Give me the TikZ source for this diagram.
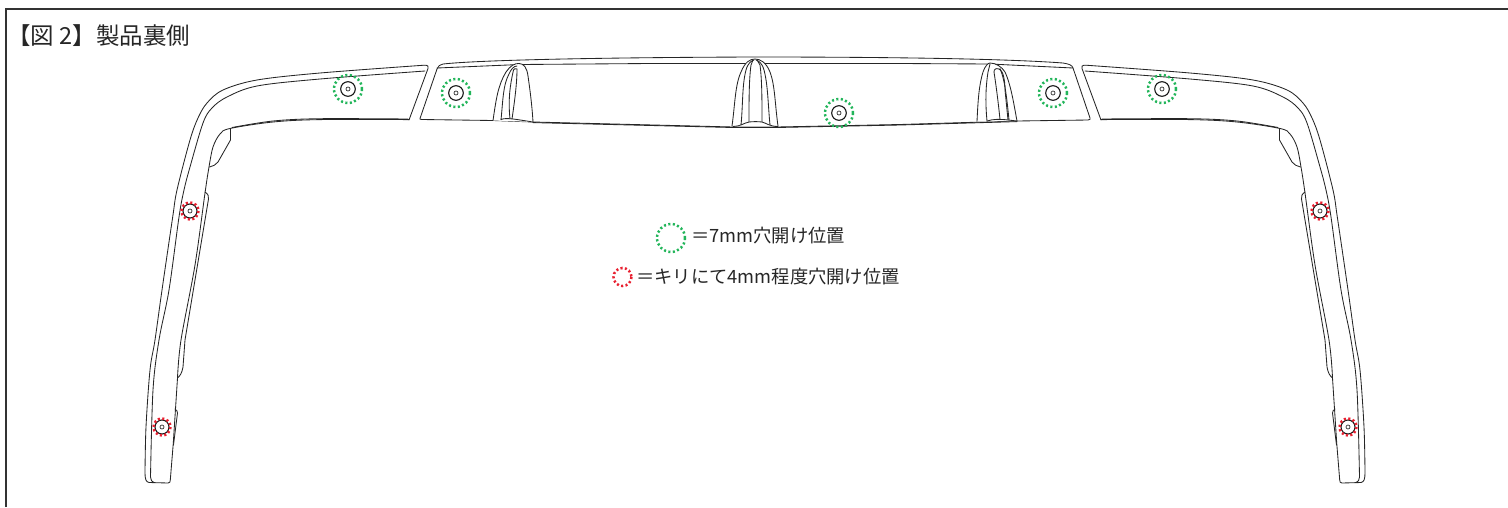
\documentclass[tikz,border=0pt]{standalone}
\usepackage{fontspec}
\setmainfont{Noto Sans CJK JP}
\tikzset{
  x=1pt,y=-1pt,
  part/.style={draw=black!85,line width=0.85pt,line join=round,line cap=round},
  frameline/.style={draw=black!80,line width=1.1pt},
  greenring/.style={draw=ringgreen,line width=2.5pt,dash pattern=on 2.1pt off 2.4pt},
  redring/.style={draw=ringred,line width=2.5pt,dash pattern=on 2.1pt off 2.35pt},
  boltline/.style={draw=black!90,line width=1.1pt},
  holeline/.style={draw=black!80,line width=0.7pt},
  label/.style={inner sep=0pt,anchor=west,text=black!85,font=\fontsize{18.3}{20}\selectfont},
  smoothy/.style={smooth,tension=0.55}
}
\definecolor{ringgreen}{RGB}{34,181,90}
\definecolor{ringred}{RGB}{232,32,48}
\newcommand{\greenbolt}[2]{%
  \draw[boltline] (#1,#2) circle[radius=7.3];
  \draw[holeline] (#1,#2) circle[radius=2];
  \draw[greenring] (#1,#2) circle[radius=14];}
\newcommand{\redbolt}[2]{%
  \draw[boltline] (#1,#2) circle[radius=7];
  \draw[holeline] (#1,#2) circle[radius=2];
  \draw[redring] (#1,#2) circle[radius=8.5];}
\newcommand{\wingshape}{%
  % outer edge with end tip
  \draw[part] plot[smoothy] coordinates {(424,65.2) (320,73) (257,80) (223,90) (207,103) (198,118) (190,140) (177,190) (172.7,217) (162,290) (155,340) (150,370) (146,427) (145,473)}
     .. controls (145,479) and (146,482) .. (149,482.5) -- (168,483)
     .. controls (170,483) and (170,482) .. (170.3,480) -- (173.3,443) -- (177.5,378);
  \draw[part] (424,65.2) .. controls (428,65) and (429,66.5) .. (428,68.5) -- (409,120);
  % second edge
  \draw[part] plot[smoothy] coordinates {(425,71) (320,79) (257,86) (227,97) (212,108) (203,123) (190,167) (184,190) (179,217) (169,290) (159,340) (153,390) (150.5,477)}
     .. controls (150.5,480) and (152,482) .. (154,482.5);
  % inner edge
  \draw[part] plot[smoothy] coordinates {(409,119.6) (320,119.6) (273,122) (230,128.5) (220,134) (213,147) (209,167) (205,193) (195,265) (181,340) (177.5,378)};
  \draw[part] plot[smoothy] coordinates {(408,119) (320,118.7) (273,121) (232,127.5)};
  % corner gusset
  \draw[part] (230.5,129) -- (230.5,140) -- (218,162) .. controls (216,165) and (213,166) .. (209.5,167);
  % long flap
  \draw[part] (205,192) .. controls (208,194) and (209,196) .. (208.5,199) -- (185,340) -- (183,367) .. controls (182,373) and (180,376) .. (177.5,378);
  % short flap
  \draw[part] (175,409) .. controls (176.5,410) and (177.5,411) .. (177.5,413) -- (173.5,445);
}
\begin{document}
\begin{tikzpicture}
\useasboundingbox (0,0) rectangle (1508,507);
% frame
\draw[frameline] (6,507) -- (6,9) -- (1508,9);
% title
\node[label,font=\fontsize{23.5}{25}\selectfont] (title) at (7,36) {【図 2】製品裏側};
% left and right wings
\wingshape
\begin{scope}[xshift=1510pt,xscale=-1]
\wingshape
\end{scope}
% centre panel
\draw[part] (420,118.5) -- (437,69) .. controls (438,66) and (440,64.5) .. (443,64)
  .. controls (480,60) and (600,57.5) .. (755,57) .. controls (900,57) and (1010,59) .. (1063,63)
  .. controls (1069,64) and (1072,65) .. (1073,68) -- (1090,118) .. controls (1090.5,119) and (1090,120) .. (1088,120)
  -- (1017,121) -- (900,124.5) -- (777,127) -- (733,127) -- (533,122) -- (493,120.5) -- (422,119.5)
  .. controls (420,119.5) and (419.7,119) .. (420,118.5);
\draw[part] (533,122.6) -- (733,127.5) -- (777,127.5) -- (900,125) -- (1017,121.6);
\draw[part] (437,68) -- (520,64.5) -- (650,63.5) -- (755,63.5) -- (900,63.5) -- (990,64) -- (1073,68);
% left rib
\draw[part,fill=white] (493,120.5) .. controls (496,100) and (498,85) .. (506,72) .. controls (510,66) and (515,63) .. (519,63.5)
  .. controls (524,63.5) and (527,68) .. (528,76) .. controls (530,90) and (532,105) .. (533,122);
\draw[part] (501,120) .. controls (503,100) and (503,85) .. (509,74) .. controls (511,69) and (514,66) .. (517,66);
\draw[part] (517,69) .. controls (515,68) and (514,69) .. (513.5,70) .. controls (510,85) and (508,100) .. (510,119);
\draw[part] (517,69) .. controls (517,85) and (514,105) .. (512,119);
\draw[part] (501,119.5) .. controls (504,118) and (510,118.5) .. (517,119.5) -- (533,122);
% centre rib
\draw[part,fill=white] (732,126) .. controls (735,105) and (735,85) .. (741,72) .. controls (745,62) and (750,59) .. (755,59)
  .. controls (760,59) and (766,62) .. (770,72) .. controls (775,85) and (775,105) .. (778,126);
\draw[part] (741,125) .. controls (743,105) and (742,85) .. (746,70) .. controls (748,63) and (751,61) .. (754,60);
\draw[part] (770,125) .. controls (768,105) and (768,85) .. (764,70) .. controls (762,63) and (759,61) .. (756,60);
\draw[part] (749,122) .. controls (749,100) and (749,80) .. (751,65) -- (753,60);
\draw[part] (762,122) .. controls (762,100) and (762,80) .. (760,65) -- (757,60);
\draw[part] (733,126.5) .. controls (740,126.5) and (744,123) .. (749,122) .. controls (753,121.5) and (758,121.5) .. (762,122) .. controls (766,123) and (770,126.5) .. (778,126.5);
% right rib
\draw[part,fill=white] (977,121.5) .. controls (978,100) and (979,85) .. (983,72) .. controls (985,66) and (988,63) .. (990,63)
  .. controls (996,63) and (1002,67) .. (1005,72) .. controls (1011,85) and (1014,105) .. (1017,121);
\draw[part] (987,121) .. controls (985,100) and (986,85) .. (988,72) -- (990,64);
\draw[part] (1000,119.5) .. controls (998,100) and (996,85) .. (994,72) .. controls (994,69) and (996,68) .. (999,69)
  .. controls (1003,70) and (1005,80) .. (1005,90) -- (1008,120);
\draw[part] (1000,68.5) .. controls (1005,80) and (1007,100) .. (1009,120);
\draw[part] (987,121) .. controls (993,119) and (1000,119) .. (1008,120) -- (1017,121);
% bolts
\greenbolt{348}{89}
\greenbolt{1162}{89}
\greenbolt{456}{93}
\greenbolt{839}{113}
\greenbolt{1053}{93}
\redbolt{190}{211}
\redbolt{1320}{211}
\redbolt{162}{427}
\redbolt{1348}{427}
% legend
\draw[greenring] (671,238) circle[radius=14];
\draw[redring] (622.5,277) circle[radius=9];
\node[label] (lega) at (691,236) {＝7mm穴開け位置};
\node[label] (legb) at (636,277) {＝キリにて4mm程度穴開け位置};
\end{tikzpicture}
\end{document}
